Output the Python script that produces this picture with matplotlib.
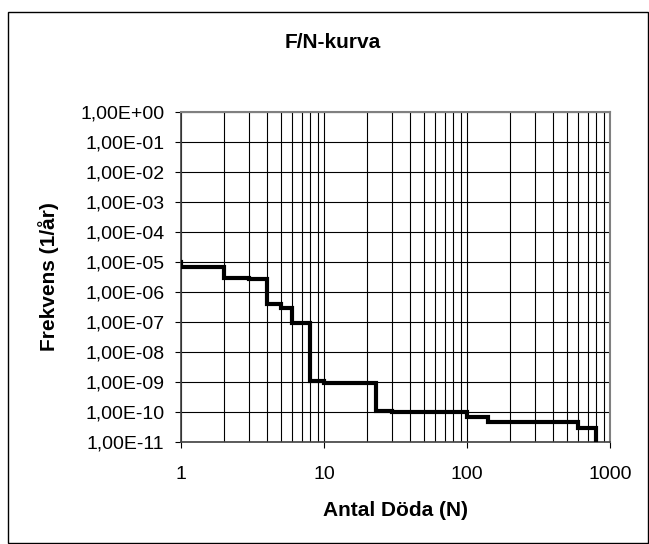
import numpy as np
import matplotlib.pyplot as plt
from matplotlib.patches import Rectangle
from matplotlib.ticker import LogLocator, NullLocator, NullFormatter

plt.rcParams['font.family'] = ['Liberation Sans', 'DejaVu Sans']

# F/N-kurva, trappsteg (N, F)
antal = [1, 1, 2, 3, 4, 5, 6, 8, 10, 23, 30, 100, 141, 600, 800]
frekvens = [1e-5, 7e-6, 3e-6, 2.7e-6, 4e-7, 3e-7, 9e-8, 1.1e-9, 9.5e-10,
            1.05e-10, 1.0e-10, 7e-11, 4.7e-11, 3e-11, 1e-11]

x_ticks = [1, 10, 100, 1000]
x_labels = ['1', '10', '100', '1000']
y_ticks = [1e0, 1e-1, 1e-2, 1e-3, 1e-4, 1e-5, 1e-6, 1e-7, 1e-8, 1e-9, 1e-10, 1e-11]
y_labels = ['1,00E+00', '1,00E-01', '1,00E-02', '1,00E-03', '1,00E-04', '1,00E-05',
            '1,00E-06', '1,00E-07', '1,00E-08', '1,00E-09', '1,00E-10', '1,00E-11']

fig = plt.figure(figsize=(6.49, 5.44), dpi=100)
ax = fig.add_axes([0.279, 0.1875, 0.661, 0.6066])

ax.plot(antal, frekvens, drawstyle='steps-post', color='black', lw=3,
        solid_joinstyle='miter', zorder=3)

ax.set_xscale('log')
ax.set_yscale('log')
ax.set_xlim(1, 1000)
ax.set_ylim(1e-11, 1)

ax.set_xticks(x_ticks, x_labels)
ax.xaxis.set_minor_locator(LogLocator(base=10, subs=np.arange(2, 10)))
ax.xaxis.set_minor_formatter(NullFormatter())
ax.set_yticks(y_ticks, y_labels)
ax.yaxis.set_minor_locator(NullLocator())

ax.grid(True, which='major', color='black', lw=0.8)
ax.grid(True, which='minor', axis='x', color='black', lw=0.8)
ax.set_axisbelow(True)

ax.tick_params(which='major', direction='out', length=4, width=0.8, labelsize=14)
ax.tick_params(axis='y', pad=8)
ax.tick_params(axis='x', pad=13)
ax.tick_params(which='minor', length=0)

for side in ['top', 'right']:
    ax.spines[side].set_color('#808080')
    ax.spines[side].set_linewidth(1.5)
for side in ['left', 'bottom']:
    ax.spines[side].set_color('#404040')
    ax.spines[side].set_linewidth(1.2)

fig.text(0.610, 0.061, 'Antal Döda (N)', ha='center', va='center',
         fontsize=15, fontweight='bold')
fig.text(0.0755, 0.491, 'Frekvens (1/år)', ha='center', va='center',
         rotation=90, fontsize=15, fontweight='bold')
fig.text(0.513, 0.921, 'F/N-kurva', ha='center', va='center',
         fontsize=15, fontweight='bold')

fig.patches.append(Rectangle((0.012, 0.001), 0.987, 0.977, transform=fig.transFigure,
                             fill=False, edgecolor='black', lw=1.0))

fig.savefig('out.png', dpi=100)
